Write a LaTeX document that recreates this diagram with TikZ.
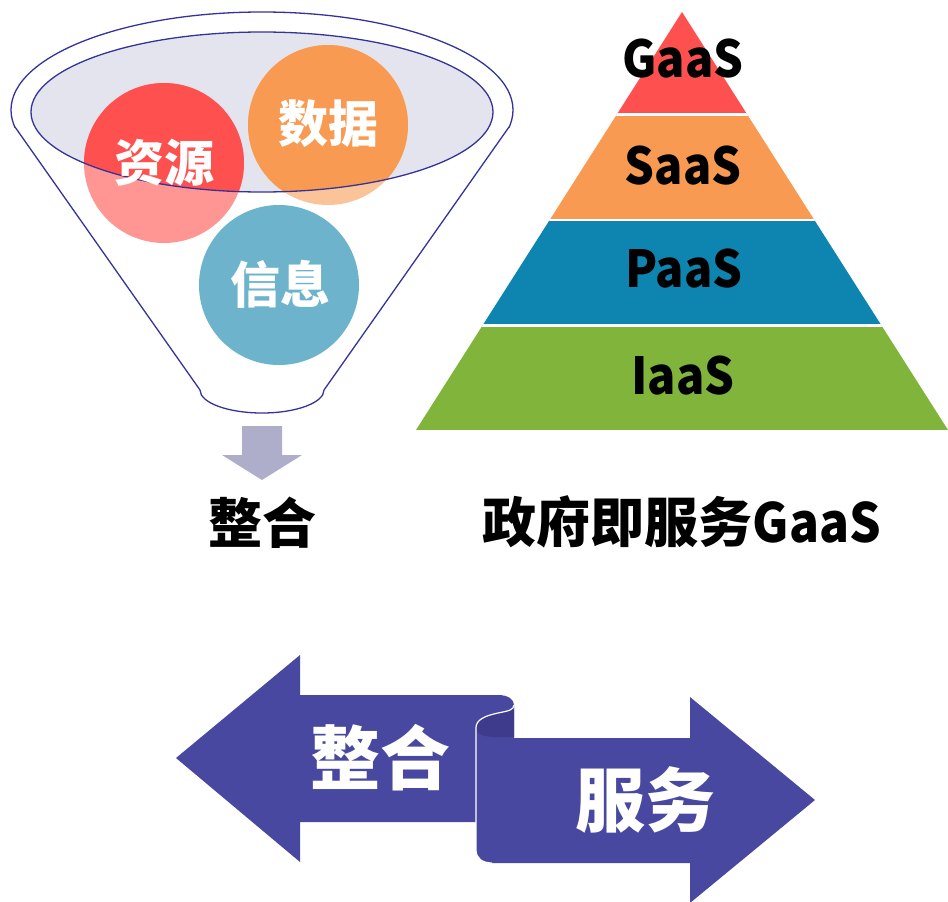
\documentclass[tikz,border=0pt]{standalone}
\usepackage{fontspec}
\newfontfamily\cjk{Noto Sans CJK SC}
\newfontfamily\cjklat{Noto Sans CJK SC}[FakeStretch=0.92]
\definecolor{funline}{RGB}{51,51,153}
\definecolor{funfill}{RGB}{228,228,238}
\definecolor{cred}{RGB}{255,80,80}
\definecolor{credL}{RGB}{255,150,148}
\definecolor{corange}{RGB}{248,154,82}
\definecolor{corangeL}{RGB}{250,196,152}
\definecolor{cblueL}{RGB}{109,179,203}
\definecolor{pred}{RGB}{255,80,80}
\definecolor{porange}{RGB}{248,154,82}
\definecolor{pblue}{RGB}{14,133,176}
\definecolor{pgreen}{RGB}{128,180,58}
\definecolor{grayarrow}{RGB}{174,174,203}
\definecolor{barrow}{RGB}{72,72,160}
\definecolor{bcurl}{RGB}{62,58,140}
\begin{document}
\begin{tikzpicture}[x=1pt,y=-1pt,
  circlbl/.style={inner sep=0pt, text=white, font=\cjk\bfseries\fontsize{50}{60}\selectfont},
  pyrlbl/.style={inner sep=0pt, text=black, font=\cjklat\bfseries\fontsize{51}{60}\selectfont},
  caption/.style={inner sep=0pt, text=black, font=\cjk\bfseries\fontsize{54}{64}\selectfont},
  biglbl/.style={inner sep=0pt, text=white, font=\cjk\bfseries\fontsize{70}{80}\selectfont},
  funstroke/.style={draw=funline, line width=1.3pt}]
\useasboundingbox (0,0) rectangle (948,902);

% ---------- funnel ----------
\fill[funfill] (262,112) ellipse[x radius=231, y radius=80];
\fill[credL] (164,163) circle[radius=80];
\fill[corangeL] (328,125) circle[radius=80];
\fill[cblueL] (279,285) circle[radius=80];
\begin{scope}
  \clip (262,112) ellipse[x radius=231, y radius=80];
  \fill[cred] (164,163) circle[radius=80];
  \fill[corange] (328,125) circle[radius=80];
\end{scope}
\draw[funstroke] (262,112) ellipse[x radius=231, y radius=80];
\begin{scope}
  \clip (0,0) rectangle (948,127);
  \draw[funstroke] (262,110) ellipse[x radius=251, y radius=98];
\end{scope}
\begin{scope}
  \clip (0,390) rectangle (948,430);
  \draw[funstroke] (262,390) ellipse[x radius=62, y radius=23];
\end{scope}
\draw[funstroke] (15,127) -- (200,390);
\draw[funstroke] (509,127) -- (324,390);

\node[circlbl] (ziyuan) at (164,163) {资源};
\node[circlbl] (shuju) at (328,124) {数据};
\node[circlbl] (xinxi) at (280,284) {信息};

% gray arrow
\fill[grayarrow] (242,426) -- (282,426) -- (282,455) -- (302,455) -- (262,480) -- (222,455) -- (242,455) -- cycle;
\node[caption] (zhenghe1) at (262,523) {整合};

% ---------- pyramid ----------
\begin{scope}
  \clip (682,12) -- (948,430) -- (416,430) -- cycle;
  \fill[pred] (400,0) rectangle (948,114.5);
  \fill[porange] (400,114.5) rectangle (948,220);
  \fill[pblue] (400,220) rectangle (948,325);
  \fill[pgreen] (400,325) rectangle (948,430);
  \draw[white, line width=3pt] (400,114.5) -- (948,114.5);
  \draw[white, line width=2.5pt] (400,220) -- (948,220);
  \draw[white, line width=3pt] (400,325) -- (948,325);
\end{scope}
\node[pyrlbl, anchor=base] (gaas) at (683,77) {GaaS};
\node[pyrlbl, anchor=base] (saas) at (683,184) {SaaS};
\node[pyrlbl, anchor=base] (paas) at (684,287) {PaaS};
\node[pyrlbl, anchor=base] (iaas) at (683,394) {IaaS};
\node[caption] (gov) at (682,522) {政府即服务{\cjklat GaaS}};

% ---------- bottom double ribbon arrow ----------
\fill[barrow] (176,758) -- (300,655) -- (300,695) -- (498,695)
  .. controls (509,695) and (514,700) .. (514,705)
  .. controls (514,710) and (508,711) .. (498,713)
  .. controls (484,716) and (476,720) .. (476,728)
  -- (476,822) -- (300,822) -- (300,862) -- cycle;
\fill[barrow] (476,728) -- (476,850)
  .. controls (476,858) and (482,863) .. (492,863)
  -- (690,863) -- (690,903) -- (815,800) -- (690,697) -- (690,738)
  -- (514,738) -- (514,705)
  .. controls (514,710) and (508,711) .. (498,713)
  .. controls (484,716) and (476,720) .. (476,728) -- cycle;
\fill[bcurl] (514,705)
  .. controls (514,710) and (508,711) .. (498,713)
  .. controls (484,716) and (476,720) .. (476,728)
  .. controls (476,734) and (484,737) .. (496,737)
  -- (514,737) -- cycle;
\draw[white, line width=1.2pt] (514,705)
  .. controls (514,710) and (508,711) .. (498,713)
  .. controls (484,716) and (476,720) .. (476,728)
  -- (476,850) .. controls (476,858) and (482,863) .. (492,863);
\node[biglbl] (zhenghe2) at (380,758) {整合};
\node[biglbl] (fuwu) at (645,800) {服务};
\end{tikzpicture}
\end{document}
